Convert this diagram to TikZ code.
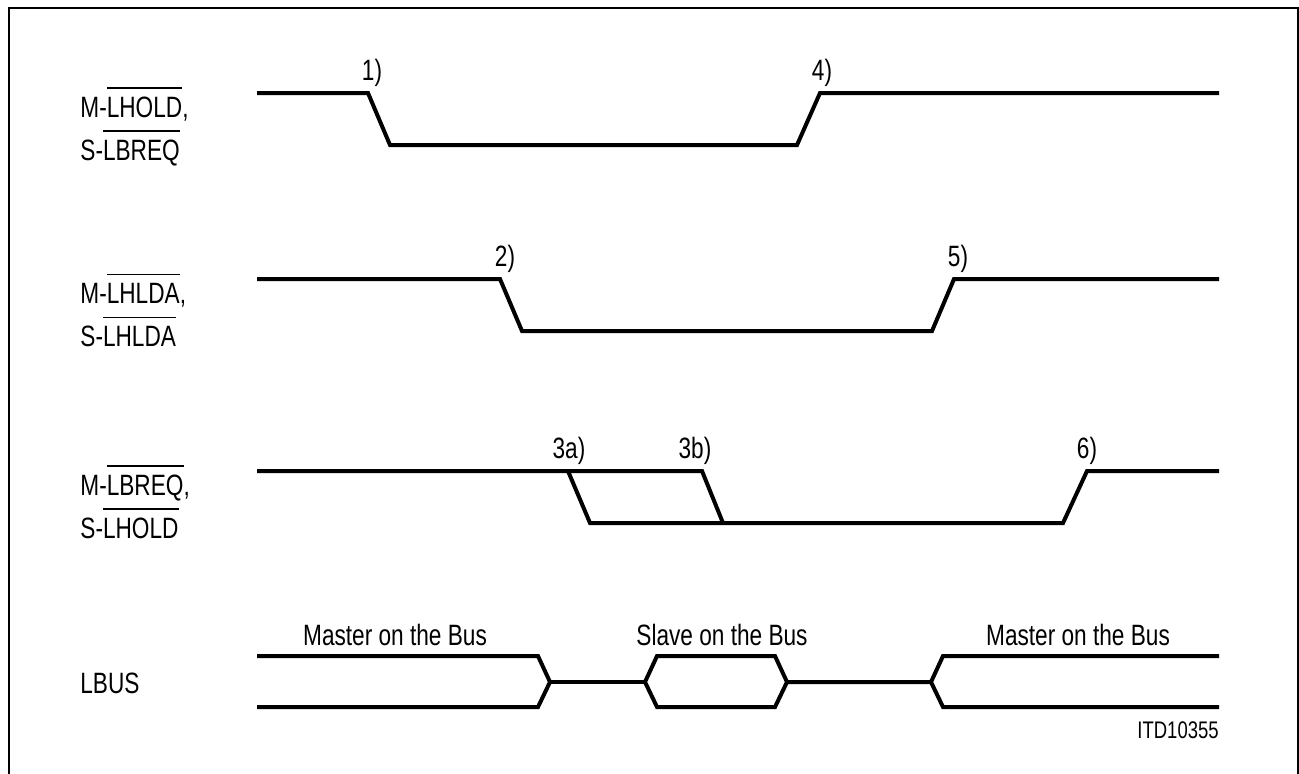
\documentclass[tikz,border=0pt]{standalone}
\usepackage{fontspec}
\setmainfont{Liberation Sans}[FakeStretch=0.77]
\newcommand\sigfont{\fontsize{14.7pt}{17pt}\selectfont}
\newcommand\barsig[1]{\setbox0\hbox{#1}\rlap{\rule[\dimexpr\ht0+3.9pt\relax]{\wd0}{0.7pt}}\box0}
\begin{document}
\begin{tikzpicture}[x=0.5pt, y=-0.5pt, every node/.style={font=\sigfont, inner sep=0pt}, sig/.style={line width=2pt}]
  \useasboundingbox (0,0) rectangle (1299,773);
  \draw[line width=1.4pt] (9,790) -- (9,8) -- (1298,8) -- (1298,790);
  \draw[sig] (257,93) -- (368,93) -- (390,145) -- (797,145) -- (820,93) -- (1219,93);
  \node[anchor=base] (e1) at (372,80) {1)}; \node[anchor=base] (e4) at (822,80) {4)};
  \node[anchor=base west] (m1) at (80,117) {M-\barsig{LHOLD},};
  \node[anchor=base west] (s1) at (80,160) {S-\barsig{LBREQ}};
  \draw[sig] (257,279) -- (500,279) -- (522,331) -- (932,331) -- (954,279) -- (1219,279);
  \node[anchor=base] (e2) at (505,266) {2)}; \node[anchor=base] (e5) at (958,266) {5)};
  \node[anchor=base west] (m2) at (80,303) {M-\barsig{LHLDA},};
  \node[anchor=base west] (s2) at (80,346) {S-\barsig{LHLDA}};
  \draw[sig] (257,471) -- (702,471) -- (723,523);
  \draw[sig] (568,471) -- (590,523) -- (1063,523) -- (1087,471) -- (1219,471);
  \node[anchor=base] (e3a) at (569,458) {3a)}; \node[anchor=base] (e3b) at (695,458) {3b)};
  \node[anchor=base] (e6) at (1087,458) {6)};
  \node[anchor=base west] (m3) at (80,495) {M-\barsig{LBREQ},};
  \node[anchor=base west] (s3) at (80,538) {S-\barsig{LHOLD}};
  \draw[sig] (257,656) -- (538,656) -- (550,682) -- (538,707) -- (257,707);
  \draw[sig] (550,682) -- (645,682);
  \draw[sig] (645,682) -- (657,656) -- (775,656) -- (787,682) -- (775,707) -- (657,707) -- cycle;
  \draw[sig] (787,682) -- (931,682) -- (943,656) -- (1219,656);
  \draw[sig] (931,682) -- (943,707) -- (1219,707);
  \node[anchor=base] (b1) at (395,645) {Master on the Bus};
  \node[anchor=base] (b2) at (722,645) {Slave on the Bus};
  \node[anchor=base] (b3) at (1078,645) {Master on the Bus};
  \node[anchor=base west] (lbus) at (80,693) {LBUS};
  \node[anchor=base east, font=\fontsize{12pt}{14pt}\selectfont] (itd) at (1219,738) {ITD10355};
\end{tikzpicture}
\end{document}
